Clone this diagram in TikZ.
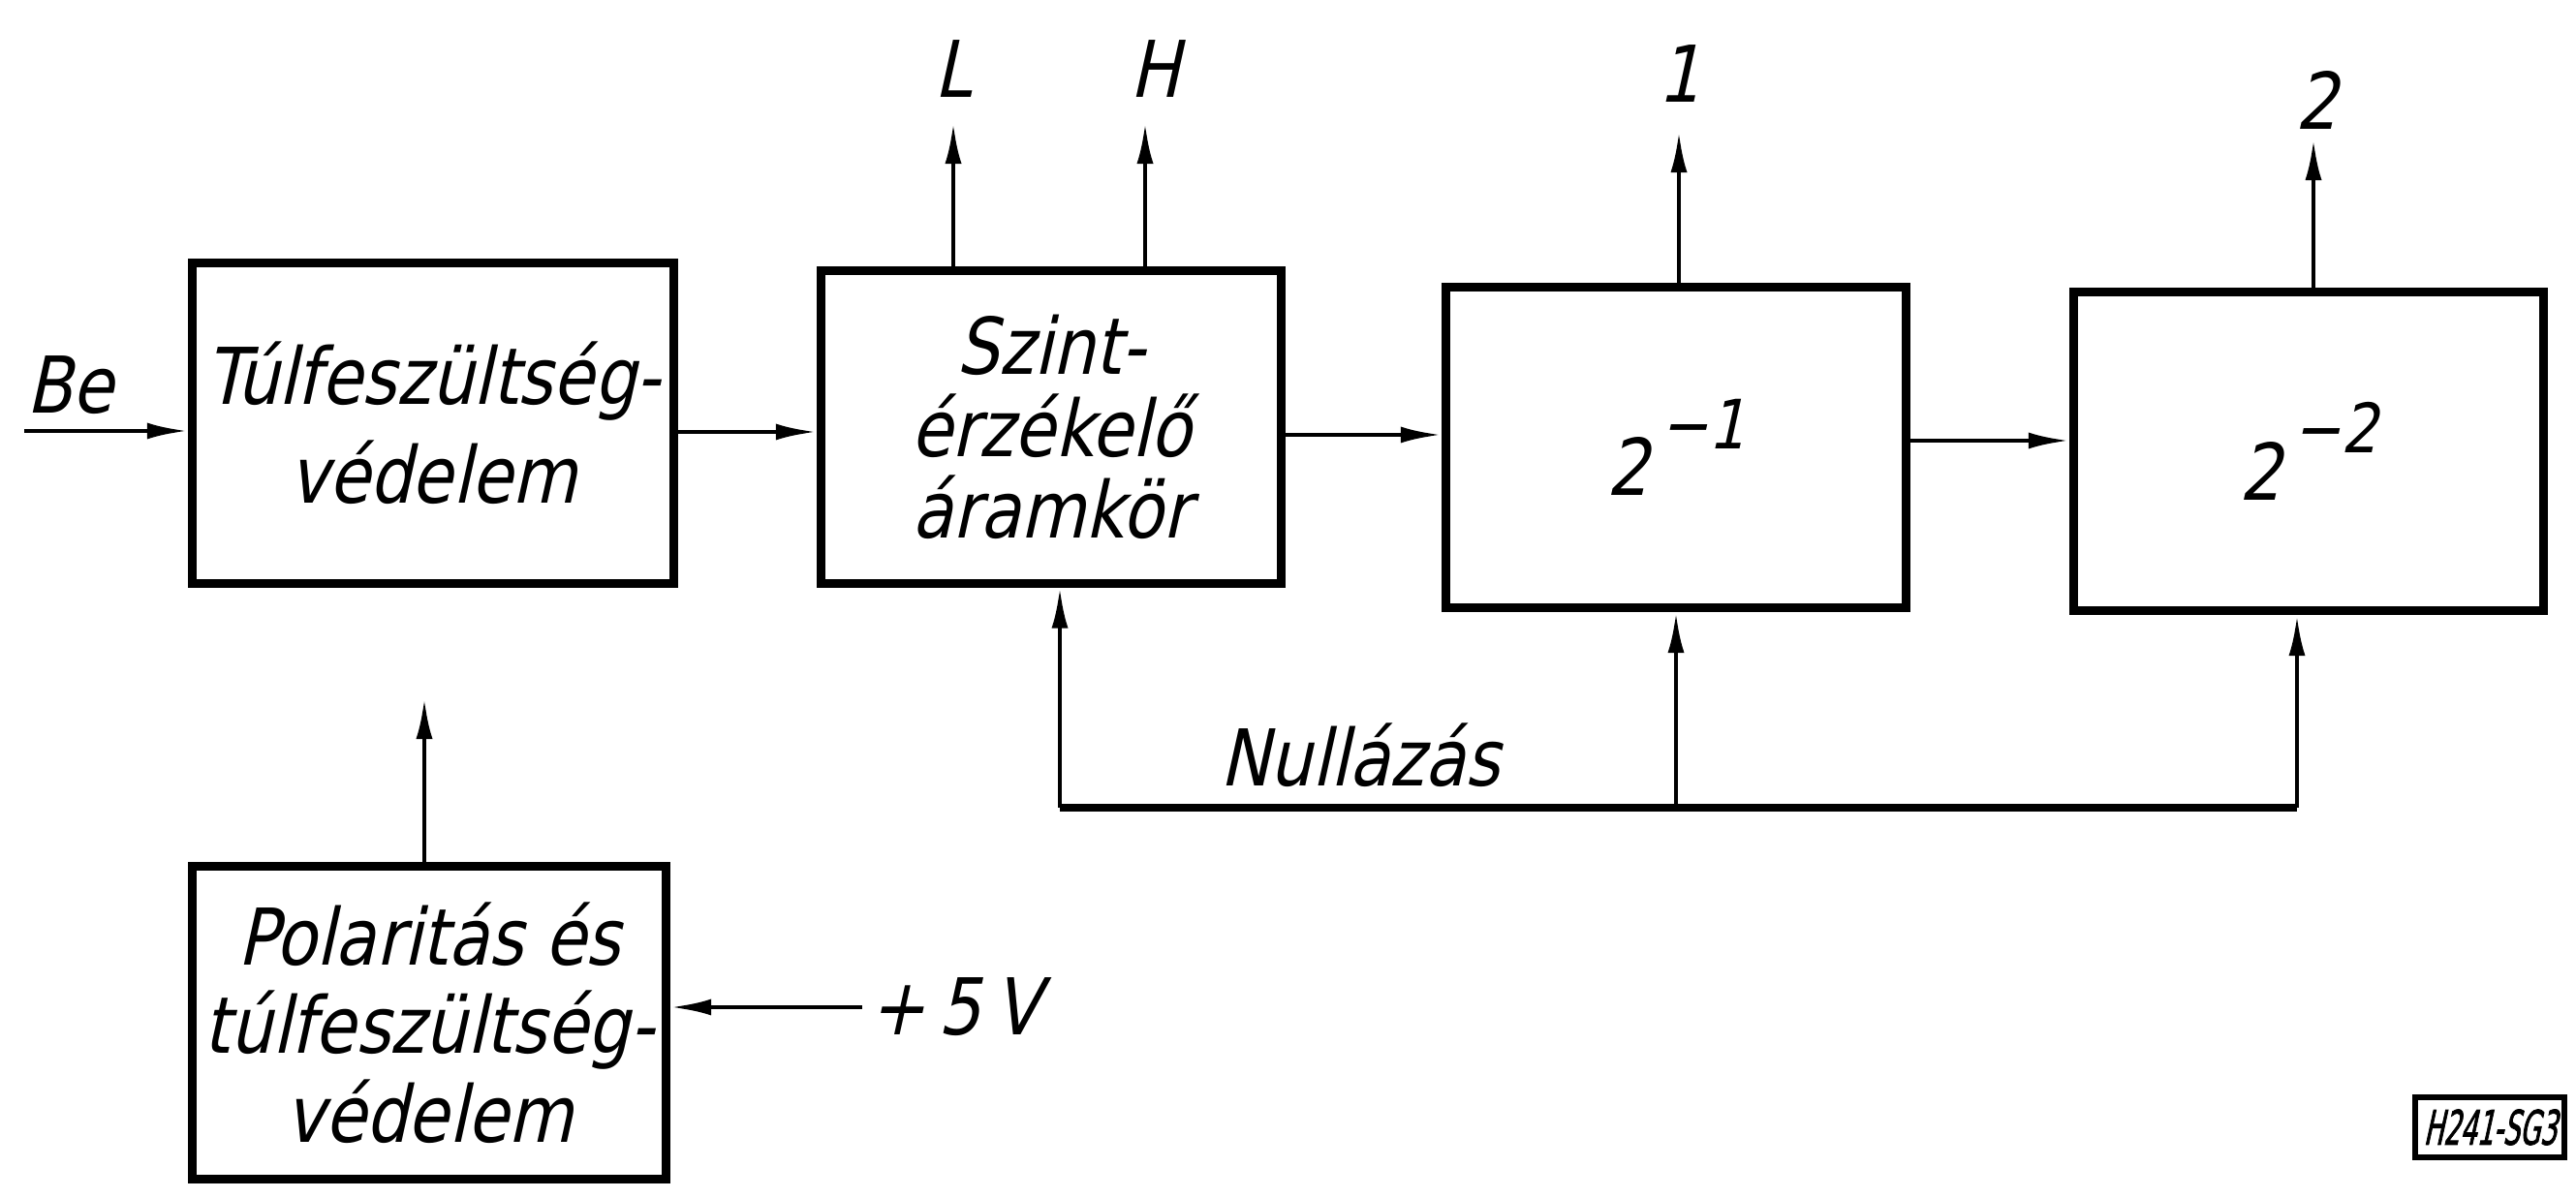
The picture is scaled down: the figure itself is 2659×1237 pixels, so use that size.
\documentclass[tikz,border=0pt]{standalone}
\usepackage{fontspec}
\newfontfamily\lett{DejaVu Sans}[FakeSlant=0.22,FakeStretch=0.85]
\newfontfamily\lettn{DejaVu Sans}[FakeSlant=0.22,FakeStretch=0.55,FakeBold=1.5]
\usetikzlibrary{arrows.meta}
\begin{document}
\begin{tikzpicture}[x=0.01cm,y=-0.01cm,
  font=\lett\fontsize{23}{27}\selectfont,
  box/.style={draw,line width=2.6pt,align=center,inner sep=0pt},
  arr/.style={line width=1.3pt,-{Latex[length=4.2mm,width=1.7mm]}},
  lbl/.style={inner sep=2pt}]
\path[use as bounding box,fill=white] (0,0) rectangle (2659,1237);

% blocks
\node[box,minimum width=4.97cm,minimum height=3.31cm] (b1) at (447,437)
  {Túlfeszültség-\\[2pt]védelem};
\node[box,minimum width=4.75cm,minimum height=3.22cm,font=\lett\fontsize{23}{24}\selectfont] (b2) at (1085,441)
  {Szint-\\érzékelő\\áramkör};
\node[box,minimum width=4.75cm,minimum height=3.31cm] (b3) at (1730,462)
  {2\kern3pt\raisebox{0.6em}{\fontsize{20}{20}\selectfont −1}};
\node[box,minimum width=4.85cm,minimum height=3.29cm] (b4) at (2383,466)
  {2\kern3pt\raisebox{0.6em}{\fontsize{20}{20}\selectfont −2}};
\node[box,minimum width=4.89cm,minimum height=3.23cm,font=\lett\fontsize{23}{26}\selectfont] (b5) at (443,1056)
  {Polaritás és\\túlfeszültség-\\védelem};

% input
\node[lbl] (be) at (72,398) {Be};
\coordinate (bs) at (25,445);
\draw[arr] (bs) -- (bs -| b1.west);

% chain
\coordinate (c12) at (0,446);
\draw[arr] (c12 -| b1.east) -- (c12 -| b2.west);
\coordinate (c23) at (0,449);
\draw[arr] (c23 -| b2.east) -- (c23 -| b3.west);
\coordinate (c34) at (0,455);
\draw[arr] (c34 -| b3.east) -- (c34 -| b4.west);

% outputs
\coordinate (Lt) at (984,127);
\draw[arr] (Lt |- b2.north) -- (Lt);
\node[lbl] (L) at (984,71) {L};
\coordinate (Ht) at (1182,127);
\draw[arr] (Ht |- b2.north) -- (Ht);
\node[lbl] (H) at (1192,71) {H};
\coordinate (o1t) at (1733,136);
\draw[arr] (o1t |- b3.north) -- (o1t);
\node[lbl] (o1) at (1733,76) {1};
\coordinate (o2t) at (2388,144);
\draw[arr] (o2t |- b4.north) -- (o2t);
\node[lbl] (o2) at (2391,103) {2};

% reset bus
\coordinate (nl) at (1094,834);
\coordinate (nm) at (1730,834);
\coordinate (nr) at (2371,834);
\draw[line width=2pt] (nl) -- (nr);
\draw[arr] (nl) -- (nl |- b2.south);
\draw[arr] (nm) -- (nm |- b3.south);
\draw[arr] (nr) -- (nr |- b4.south);
\node[lbl] (null) at (1404,780) {Nullázás};

% protection block
\coordinate (pt) at (438,721);
\draw[arr] (pt |- b5.north) -- (pt);
\node[lbl,anchor=west] (v5) at (890,1040) {+\,5\,V};
\draw[arr] (v5.west) -- (v5.west -| b5.east);

% drawing number
\node[draw,line width=1.6pt,inner sep=2pt,minimum width=1.54cm,minimum height=0.62cm,anchor=east,
  font=\lettn\fontsize{14}{14}\selectfont] (num) at (2650,1164) {H241-SG3};
\end{tikzpicture}
\end{document}
